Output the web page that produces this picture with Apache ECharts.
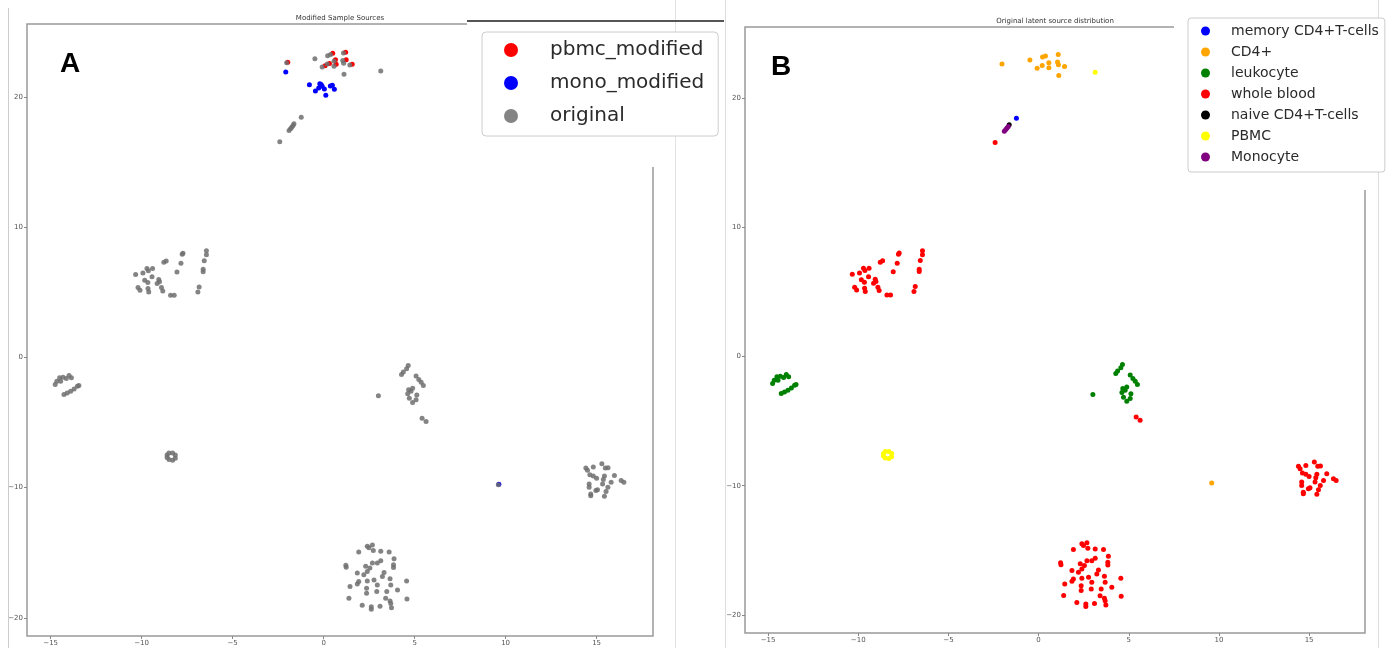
<!DOCTYPE html>
<html>
<head>
<meta charset="utf-8">
<script src="https://cdn.jsdelivr.net/npm/echarts@6/dist/echarts.min.js"></script>
<style>html,body{margin:0;padding:0;background:#fff}#c{width:1393px;height:648px}</style>
</head>
<body>
<div id="c"></div>
<script>
// ---- tick labels ----
var xTicks = [-15, -10, -5, 0, 5, 10, 15];
var yTicks = [-20, -10, 0, 10, 20];

// ---- panel B: original latent source distribution ----
var memoryCD4 = [[-1.23, 18.44]];
var cd4 = [[-2.03, 22.63], [-0.48, 22.94], [0.22, 23.17], [0.38, 23.25], [1.09, 23.38], [-0.08, 22.30], [0.20, 22.53],
  [0.57, 22.74], [0.57, 22.35], [1.05, 22.79], [1.10, 22.58], [1.44, 22.45], [1.12, 21.75], [9.6, -9.79]];
var leukocyte = [[-14.75, -2.09], [-14.66, -1.83], [-14.51, -1.57], [-14.32, -1.52], [-14.14, -1.62], [-13.99, -1.39],
  [-13.86, -1.57], [-14.45, -1.83], [-14.27, -2.86], [-14.09, -2.74], [-13.90, -2.61], [-13.71, -2.43], [-13.53, -2.22],
  [-13.45, -2.17], [3.01, -2.94], [4.28, -1.31], [4.38, -1.13], [4.56, -0.87], [4.65, -0.62], [5.08, -1.44], [5.23, -1.70],
  [5.36, -1.91], [5.48, -2.17], [4.67, -2.48], [4.62, -2.79], [4.71, -3.15], [4.89, -3.46], [5.08, -3.25], [5.12, -2.89],
  [4.89, -2.37], [4.80, -2.61]];
var wholeBlood = [[-10.33, 6.37], [-9.93, 6.47], [-9.71, 6.83], [-9.40, 6.83], [-9.63, 6.65], [-9.43, 6.18], [-9.83, 5.93],
  [-9.66, 5.75], [-10.2, 5.36], [-10.09, 5.15], [-9.65, 5.28], [-9.61, 5.02], [-9.15, 5.67], [-9.06, 5.98], [-9.02, 5.80],
  [-8.91, 5.36], [-8.84, 5.10], [-8.78, 7.30], [-8.65, 7.40], [-8.41, 4.76], [-8.21, 4.76], [-8.06, 6.55], [-7.84, 7.22],
  [-7.77, 7.92], [-7.73, 8.00], [-6.44, 8.18], [-6.44, 7.87], [-6.56, 7.42], [-6.62, 6.76], [-6.62, 6.57], [-6.84, 5.41],
  [-6.91, 5.02], [-2.41, 16.56], [5.41, -4.68], [5.63, -4.93],
  [14.41, -8.50], [14.50, -8.68], [14.82, -8.43], [15.29, -8.17], [15.48, -8.50], [15.63, -8.48], [14.63, -9.02],
  [14.82, -9.12], [15.00, -9.28], [15.43, -9.12], [15.37, -9.38], [15.98, -9.07], [16.35, -9.46], [16.50, -9.59],
  [14.59, -9.72], [14.59, -9.98], [15.33, -9.72], [15.80, -9.59], [15.62, -9.98], [14.68, -10.50], [14.96, -10.23],
  [15.05, -10.16], [14.68, -10.62], [15.52, -10.31], [15.43, -10.67],
  [2.40, -14.50], [2.49, -14.63], [2.68, -14.42], [2.73, -14.84], [3.14, -14.89], [3.60, -14.94], [1.93, -14.94],
  [3.87, -15.46], [3.84, -15.93], [3.84, -16.13], [3.14, -15.62], [2.95, -15.80], [2.68, -15.80], [2.54, -16.18],
  [2.40, -16.44], [2.31, -16.05], [2.21, -16.70], [1.85, -16.57], [3.32, -16.52], [3.23, -16.83], [1.93, -17.22],
  [1.85, -17.40], [2.40, -17.17], [2.77, -17.09], [2.95, -17.48], [3.65, -17.01], [3.69, -17.48], [4.56, -17.17],
  [1.45, -17.60], [2.36, -17.74], [2.36, -18.12], [2.92, -17.99], [3.47, -17.99], [4.06, -17.86], [3.41, -18.51],
  [3.65, -18.72], [3.69, -18.90], [4.58, -18.56], [2.12, -19.03], [2.62, -19.15], [2.62, -19.34], [3.10, -19.11],
  [3.73, -19.23], [1.22, -15.96], [1.24, -16.12], [1.39, -18.50]];
var naiveCD4 = [[-1.63, 17.93]];
var pbmc = [[3.14, 21.99], [-8.6, -7.5], [-8.5, -7.35], [-8.3, -7.35], [-8.15, -7.5], [-8.15, -7.75], [-8.3, -7.9],
  [-8.5, -7.85], [-8.6, -7.7]];
var monocyte = [[-1.9, 17.43], [-1.82, 17.56], [-1.75, 17.68], [-1.68, 17.8]];

// ---- panel A: modified sample sources ----
var pbmcModified = [[-1.97, 22.66], [0.50, 23.35], [1.21, 23.43], [0.08, 22.40], [0.32, 22.56], [0.69, 22.50],
  [1.24, 22.86], [1.57, 22.50], [0.65, 22.86]];
var monoModified = [[-2.08, 21.91], [-0.78, 20.94], [-0.45, 20.45], [-0.21, 21.02], [-0.08, 20.81], [-0.27, 20.69],
  [0.04, 20.61], [0.12, 20.12], [0.37, 20.84], [0.48, 20.89], [0.59, 20.58], [-0.14, 20.95], [9.63, -9.75]];
var original = [].concat(memoryCD4, cd4, leukocyte, wholeBlood, naiveCD4, pbmc, monocyte);

var FONT = 'DejaVu Sans';
function fmt(v) { return String(v).replace('-', '\u2212'); }
function xAxisFor(gi, min, max) {
  return {
    type: 'value', gridIndex: gi, min: min, max: max, position: 'bottom',
    splitLine: { show: false }, axisLine: { show: false, onZero: false },
    axisTick: { show: true, customValues: xTicks, length: 3, lineStyle: { color: '#888' } },
    axisLabel: { customValues: xTicks, fontSize: 7, color: '#555', margin: 4, formatter: fmt, fontFamily: FONT }
  };
}
function yAxisFor(gi, min, max) {
  return {
    type: 'value', gridIndex: gi, min: min, max: max, position: 'left',
    splitLine: { show: false }, axisLine: { show: false, onZero: false },
    axisTick: { show: true, customValues: yTicks, length: 3, lineStyle: { color: '#888' } },
    axisLabel: { customValues: yTicks, fontSize: 7, color: '#555', margin: 4, formatter: fmt, fontFamily: FONT }
  };
}
function sc(name, data, color, gi, opacity) {
  return {
    type: 'scatter', name: name, data: data, xAxisIndex: gi, yAxisIndex: gi,
    symbolSize: 5, itemStyle: { color: color, opacity: opacity == null ? 1 : opacity },
    emphasis: { disabled: true }, silent: true
  };
}

var chart = echarts.init(document.getElementById('c'), null, { renderer: 'canvas' });
chart.setOption({
  animation: false,
  backgroundColor: '#fff',
  textStyle: { fontFamily: FONT },
  grid: [
    { left: 27, top: 24, width: 626, height: 612, show: true, borderColor: '#999', borderWidth: 1.5, backgroundColor: 'transparent' },
    { left: 745, top: 27, width: 620, height: 606, show: true, borderColor: '#999', borderWidth: 1.5, backgroundColor: 'transparent' }
  ],
  xAxis: [xAxisFor(0, -16.3, 18.1), xAxisFor(1, -16.28, 18.1)],
  yAxis: [yAxisFor(0, -21.4, 25.6), yAxisFor(1, -21.4, 25.5)],
  title: [
    { text: 'Modified Sample Sources', left: 340, top: 15, textAlign: 'center', textStyle: { fontSize: 7, fontWeight: 'normal', color: '#333', fontFamily: FONT }, padding: 0 },
    { text: 'Original latent source distribution', left: 1055, top: 18, textAlign: 'center', textStyle: { fontSize: 7, fontWeight: 'normal', color: '#333', fontFamily: FONT }, padding: 0 }
  ],
  legend: [
    {
      z: 10, data: ['pbmc_modified', 'mono_modified', 'original'], orient: 'vertical', left: 482, top: 32,
      padding: [8, 14, 10, 22], itemGap: 13, itemWidth: 14, itemHeight: 14, icon: 'circle',
      textStyle: { fontSize: 20, lineHeight: 20, color: '#2a2a2a', fontFamily: FONT, padding: [0, 0, 0, 27] },
      backgroundColor: '#fff', borderColor: '#ccc', borderWidth: 1, borderRadius: 4, selectedMode: false
    },
    {
      z: 10, data: ['memory CD4+T-cells', 'CD4+', 'leukocyte', 'whole blood', 'naive CD4+T-cells', 'PBMC', 'Monocyte'],
      orient: 'vertical', left: 1188, top: 18,
      padding: [6, 6, 8, 13], itemGap: 7, itemWidth: 9, itemHeight: 9, icon: 'circle',
      textStyle: { fontSize: 14, lineHeight: 14, color: '#2a2a2a', fontFamily: FONT, padding: [0, 0, 0, 16] },
      backgroundColor: '#fff', borderColor: '#ccc', borderWidth: 1, borderRadius: 3, selectedMode: false
    }
  ],
  graphic: { elements: [
    { type: 'line', z: 1, shape: { x1: 8.5, y1: 8, x2: 8.5, y2: 648 }, style: { stroke: '#ccc', lineWidth: 1 } },
    { type: 'line', z: 1, shape: { x1: 675.5, y1: 0, x2: 675.5, y2: 648 }, style: { stroke: '#e2e2e2', lineWidth: 1 } },
    { type: 'line', z: 1, shape: { x1: 725.5, y1: 0, x2: 725.5, y2: 648 }, style: { stroke: '#ddd', lineWidth: 1 } },
    { type: 'line', z: 1, shape: { x1: 1378.5, y1: 0, x2: 1378.5, y2: 648 }, style: { stroke: '#ddd', lineWidth: 1 } },
    { type: 'rect', z: 3, shape: { x: 467, y: 22, width: 208, height: 145 }, style: { fill: '#fff' } },
    { type: 'rect', z: 3, shape: { x: 1174, y: 20, width: 200, height: 170 }, style: { fill: '#fff' } },
    { type: 'line', z: 4, shape: { x1: 467, y1: 21, x2: 724, y2: 21 }, style: { stroke: '#555', lineWidth: 2 } },
    { type: 'text', z: 5, left: 60, top: 50, style: { text: 'A', fontSize: 28, fontWeight: 'bold', fill: '#000', fontFamily: 'Liberation Sans' } },
    { type: 'text', z: 5, left: 771, top: 53, style: { text: 'B', fontSize: 28, fontWeight: 'bold', fill: '#000', fontFamily: 'Liberation Sans' } }
  ] },
  series: [
    sc('pbmc_modified', pbmcModified, '#ff0000', 0),
    sc('mono_modified', monoModified, '#0000ff', 0),
    sc('original', original, '#6e6e6e', 0, 0.85),
    sc('memory CD4+T-cells', memoryCD4, '#0000ff', 1),
    sc('CD4+', cd4, '#ffa500', 1),
    sc('leukocyte', leukocyte, '#008000', 1),
    sc('whole blood', wholeBlood, '#ff0000', 1),
    sc('naive CD4+T-cells', naiveCD4, '#000000', 1),
    sc('PBMC', pbmc, '#ffff00', 1),
    sc('Monocyte', monocyte, '#800080', 1)
  ]
});
</script>
</body>
</html>
